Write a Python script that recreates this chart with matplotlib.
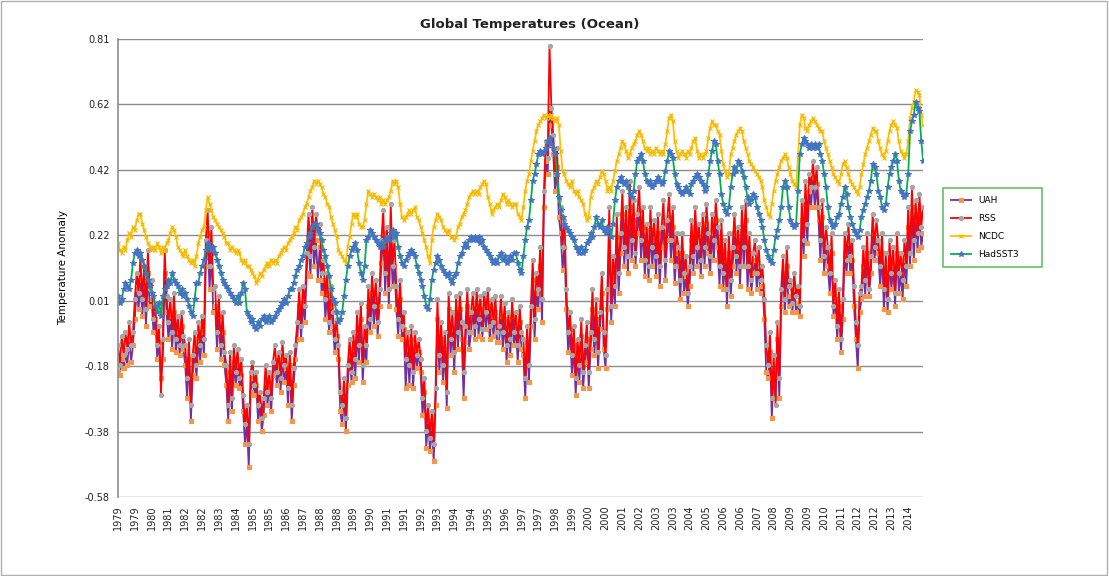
import numpy as np
import matplotlib.pyplot as plt
from matplotlib.patches import Rectangle

start_year = 1979

# monthly anomalies, Jan 1979 .. Dec 2014, one row per year
uah = [
    -0.20, -0.21, -0.16, -0.19, -0.14, -0.18, -0.10, -0.17, -0.12, -0.04, 0.05, -0.01,
    0.08, -0.03, 0.06, -0.06, 0.10, 0.00, 0.02, -0.08, -0.04, -0.16, -0.11, -0.22,
    -0.16, 0.10, -0.02, -0.10, -0.03, -0.13, -0.02, -0.14, -0.08, -0.15, -0.06, -0.13,
    -0.18, -0.28, -0.16, -0.35, -0.21, -0.13, -0.22, -0.10, -0.17, -0.08, -0.15, 0.12,
    0.22, 0.05, 0.16, -0.02, 0.00, -0.13, -0.03, -0.16, -0.08, -0.18, -0.24, -0.35,
    -0.20, -0.32, -0.17, -0.24, -0.18, -0.25, -0.21, -0.32, -0.42, -0.35, -0.49, -0.26,
    -0.22, -0.27, -0.24, -0.35, -0.30, -0.38, -0.33, -0.23, -0.30, -0.25, -0.32, -0.21,
    -0.17, -0.24, -0.19, -0.26, -0.16, -0.23, -0.19, -0.30, -0.18, -0.35, -0.24, -0.16,
    -0.10, 0.00, -0.10, 0.01, -0.05, 0.10, 0.21, 0.09, 0.24, 0.12, 0.20, 0.08,
    0.18, 0.04, 0.08, -0.04, 0.04, -0.08, 0.00, -0.06, -0.14, -0.09, -0.16, -0.32,
    -0.36, -0.27, -0.38, -0.24, -0.15, -0.23, -0.13, -0.22, -0.08, -0.17, -0.04, -0.23,
    -0.12, -0.17, 0.00, -0.08, 0.04, -0.06, 0.02, -0.09, 0.00, 0.13, 0.22, 0.04,
    0.16, 0.00, 0.22, 0.06, 0.12, -0.01, -0.09, 0.02, -0.10, -0.07, -0.25, -0.13,
    -0.24, -0.10, -0.25, -0.13, -0.19, -0.14, -0.20, -0.33, -0.26, -0.43, -0.35, -0.44,
    -0.37, -0.47, -0.30, -0.04, -0.20, -0.10, -0.23, -0.13, -0.31, -0.01, -0.15, -0.07,
    -0.20, -0.02, -0.13, -0.01, -0.10, -0.28, -0.11, 0.00, -0.13, -0.08, -0.01, -0.10,
    0.00, -0.09, -0.02, -0.10, -0.01, -0.07, 0.00, -0.10, -0.03, -0.09, -0.02, -0.11,
    -0.11, -0.03, -0.13, -0.04, -0.17, -0.07, -0.15, -0.03, -0.12, -0.07, -0.17, -0.05,
    -0.13, -0.15, -0.28, -0.11, -0.23, -0.06, 0.08, -0.10, 0.04, -0.01, 0.12, -0.05,
    0.30, 0.44, 0.40, 0.60, 0.55, 0.46, 0.35, 0.42, 0.27, 0.22, 0.11, 0.18,
    -0.01, -0.14, -0.07, -0.21, -0.12, -0.27, -0.15, -0.23, -0.09, -0.25, -0.17, -0.10,
    -0.25, -0.13, -0.01, -0.15, -0.04, -0.19, -0.07, 0.04, -0.13, -0.19, -0.01, 0.22,
    -0.05, 0.08, 0.00, 0.21, 0.04, 0.16, 0.28, 0.12, 0.24, 0.10, 0.30, 0.14,
    0.26, 0.12, 0.22, 0.29, 0.14, 0.24, 0.09, 0.19, 0.08, 0.23, 0.12, 0.20,
    0.09, 0.22, 0.06, 0.18, 0.25, 0.08, 0.20, 0.27, 0.14, 0.24, 0.07, 0.16,
    0.12, 0.02, 0.16, 0.04, 0.09, 0.00, 0.06, 0.20, 0.10, 0.24, 0.12, 0.18,
    0.09, 0.22, 0.12, 0.25, 0.16, 0.10, 0.22, 0.14, 0.26, 0.18, 0.06, 0.20,
    0.05, 0.14, 0.00, 0.16, 0.03, 0.12, 0.22, 0.10, 0.18, 0.06, 0.24, 0.12,
    0.26, 0.05, 0.16, 0.04, 0.10, 0.14, 0.05, 0.12, 0.04, 0.06, -0.04, -0.20,
    -0.22, -0.14, -0.34, -0.20, -0.28, -0.10, -0.28, 0.00, 0.10, -0.02, 0.12, 0.00,
    0.03, -0.02, 0.05, -0.02, 0.01, -0.03, 0.26, 0.15, 0.31, 0.19, 0.35, 0.30,
    0.39, 0.30, 0.37, 0.26, 0.14, 0.27, 0.10, 0.18, 0.12, 0.04, 0.16, -0.03,
    0.02, -0.10, 0.00, -0.14, -0.04, 0.16, 0.10, 0.19, 0.10, 0.14, 0.00, -0.10,
    -0.19, -0.02, 0.02, 0.12, 0.03, 0.16, 0.03, 0.10, 0.22, 0.14, 0.20, 0.16,
    0.06, 0.16, -0.01, 0.10, -0.02, 0.14, 0.05, 0.12, 0.00, 0.16, 0.04, 0.10,
    0.02, 0.14, 0.06, 0.24, 0.12, 0.30, 0.14, 0.26, 0.17, 0.28, 0.18, 0.22,
]

rss = [
    -0.12, -0.18, -0.09, -0.15, -0.08, -0.13, -0.05, -0.12, -0.08, 0.02, 0.10, 0.04,
    0.15, 0.02, 0.12, -0.01, 0.17, 0.05, 0.08, -0.04, 0.01, -0.12, -0.06, -0.27,
    -0.10, 0.17, 0.03, -0.05, 0.02, -0.08, 0.04, -0.10, -0.03, -0.12, -0.02, -0.09,
    -0.12, -0.22, -0.10, -0.30, -0.15, -0.08, -0.18, -0.05, -0.12, -0.03, -0.10, 0.20,
    0.29, 0.12, 0.24, 0.05, 0.06, -0.08, 0.03, -0.12, -0.02, -0.14, -0.18, -0.30,
    -0.14, -0.28, -0.12, -0.20, -0.13, -0.22, -0.16, -0.27, -0.36, -0.30, -0.42, -0.20,
    -0.17, -0.24, -0.20, -0.30, -0.26, -0.34, -0.28, -0.18, -0.26, -0.20, -0.28, -0.17,
    -0.12, -0.20, -0.14, -0.22, -0.11, -0.18, -0.15, -0.25, -0.14, -0.30, -0.19, -0.12,
    -0.05, 0.05, -0.06, 0.06, 0.00, 0.16, 0.28, 0.15, 0.30, 0.18, 0.28, 0.22,
    0.25, 0.10, 0.14, 0.02, 0.10, -0.05, 0.06, -0.02, -0.10, -0.04, -0.12, -0.26,
    -0.30, -0.22, -0.34, -0.18, -0.10, -0.20, -0.08, -0.16, -0.02, -0.12, 0.01, -0.18,
    -0.06, -0.12, 0.06, -0.04, 0.10, 0.00, 0.08, -0.05, 0.05, 0.20, 0.29, 0.10,
    0.24, 0.05, 0.31, 0.12, 0.20, 0.06, -0.04, 0.08, -0.06, -0.02, -0.16, -0.08,
    -0.18, -0.06, -0.20, -0.08, -0.15, -0.10, -0.16, -0.28, -0.22, -0.38, -0.30, -0.40,
    -0.32, -0.42, -0.25, 0.02, -0.15, -0.05, -0.18, -0.08, -0.26, 0.04, -0.10, -0.02,
    -0.14, 0.03, -0.08, 0.04, -0.05, -0.20, -0.06, 0.05, -0.08, -0.02, 0.04, -0.06,
    0.05, -0.04, 0.03, -0.07, 0.04, -0.02, 0.05, -0.06, 0.02, -0.05, 0.03, -0.08,
    -0.06, 0.03, -0.08, 0.01, -0.12, -0.02, -0.10, 0.02, -0.08, -0.02, -0.12, 0.00,
    -0.08, -0.10, -0.22, -0.06, -0.18, 0.00, 0.14, -0.04, 0.10, 0.05, 0.18, 0.02,
    0.35, 0.50, 0.45, 0.79, 0.60, 0.52, 0.40, 0.48, 0.32, 0.30, 0.18, 0.26,
    0.05, -0.08, -0.02, -0.15, -0.06, -0.22, -0.10, -0.18, -0.04, -0.20, -0.12, -0.05,
    -0.20, -0.08, 0.05, -0.10, 0.02, -0.14, -0.02, 0.10, -0.08, -0.15, 0.05, 0.30,
    0.00, 0.15, 0.06, 0.28, 0.10, 0.22, 0.35, 0.18, 0.30, 0.15, 0.38, 0.20,
    0.32, 0.16, 0.28, 0.36, 0.20, 0.30, 0.14, 0.25, 0.12, 0.30, 0.18, 0.26,
    0.15, 0.28, 0.12, 0.24, 0.32, 0.14, 0.26, 0.34, 0.20, 0.30, 0.12, 0.22,
    0.18, 0.08, 0.22, 0.10, 0.15, 0.04, 0.12, 0.26, 0.15, 0.30, 0.18, 0.25,
    0.14, 0.28, 0.18, 0.31, 0.22, 0.15, 0.28, 0.20, 0.32, 0.24, 0.12, 0.26,
    0.10, 0.20, 0.05, 0.22, 0.08, 0.18, 0.28, 0.15, 0.24, 0.12, 0.30, 0.18,
    0.32, 0.12, 0.22, 0.08, 0.16, 0.20, 0.10, 0.18, 0.08, 0.12, 0.02, -0.12,
    -0.18, -0.08, -0.28, -0.15, -0.30, -0.05, -0.22, 0.05, 0.15, 0.02, 0.18, 0.06,
    0.08, 0.01, 0.10, 0.03, 0.06, 0.00, 0.32, 0.20, 0.38, 0.25, 0.40, 0.36,
    0.44, 0.36, 0.42, 0.30, 0.20, 0.32, 0.15, 0.24, 0.18, 0.10, 0.22, 0.00,
    0.08, -0.06, 0.05, -0.10, 0.02, 0.22, 0.14, 0.25, 0.15, 0.20, 0.06, -0.05,
    -0.12, 0.04, 0.06, 0.18, 0.08, 0.22, 0.05, 0.15, 0.28, 0.18, 0.26, 0.20,
    0.12, 0.22, 0.05, 0.16, 0.02, 0.20, 0.10, 0.18, 0.04, 0.22, 0.10, 0.16,
    0.08, 0.20, 0.12, 0.30, 0.16, 0.36, 0.20, 0.32, 0.22, 0.34, 0.24, 0.30,
]

ncdc = [
    0.19, 0.17, 0.16, 0.18, 0.17, 0.20, 0.22, 0.21, 0.24, 0.23, 0.26, 0.28,
    0.28, 0.25, 0.23, 0.21, 0.19, 0.18, 0.17, 0.18, 0.17, 0.19, 0.18, 0.16,
    0.18, 0.17, 0.19, 0.20, 0.22, 0.24, 0.23, 0.21, 0.18, 0.17, 0.16, 0.15,
    0.17, 0.15, 0.14, 0.13, 0.14, 0.12, 0.15, 0.19, 0.21, 0.23, 0.24, 0.29,
    0.33, 0.31, 0.29, 0.27, 0.26, 0.25, 0.24, 0.23, 0.22, 0.21, 0.19, 0.19,
    0.17, 0.18, 0.17, 0.16, 0.17, 0.16, 0.14, 0.13, 0.14, 0.12, 0.12, 0.11,
    0.10, 0.09, 0.07, 0.08, 0.10, 0.09, 0.11, 0.12, 0.13, 0.12, 0.14, 0.13,
    0.14, 0.13, 0.15, 0.16, 0.17, 0.18, 0.17, 0.19, 0.20, 0.21, 0.22, 0.24,
    0.23, 0.26, 0.27, 0.28, 0.30, 0.31, 0.33, 0.35, 0.36, 0.38, 0.37, 0.38,
    0.37, 0.36, 0.34, 0.33, 0.31, 0.30, 0.27, 0.25, 0.23, 0.21, 0.17, 0.16,
    0.15, 0.14, 0.13, 0.18, 0.21, 0.25, 0.28, 0.27, 0.28, 0.25, 0.24, 0.24,
    0.26, 0.31, 0.35, 0.34, 0.33, 0.34, 0.33, 0.32, 0.33, 0.31, 0.32, 0.31,
    0.32, 0.33, 0.35, 0.38, 0.37, 0.38, 0.36, 0.31, 0.27, 0.26, 0.27, 0.28,
    0.29, 0.28, 0.29, 0.30, 0.27, 0.26, 0.24, 0.22, 0.20, 0.18, 0.15, 0.13,
    0.20, 0.24, 0.26, 0.28, 0.27, 0.26, 0.24, 0.23, 0.22, 0.23, 0.21, 0.21,
    0.20, 0.21, 0.24, 0.25, 0.27, 0.28, 0.29, 0.31, 0.33, 0.34, 0.35, 0.34,
    0.35, 0.34, 0.36, 0.37, 0.38, 0.37, 0.33, 0.31, 0.28, 0.29, 0.30, 0.31,
    0.30, 0.32, 0.34, 0.33, 0.31, 0.32, 0.31, 0.30, 0.31, 0.31, 0.28, 0.27,
    0.26, 0.30, 0.35, 0.38, 0.40, 0.44, 0.47, 0.50, 0.53, 0.55, 0.56, 0.57,
    0.58, 0.57, 0.58, 0.57, 0.58, 0.57, 0.56, 0.57, 0.55, 0.47, 0.41, 0.40,
    0.38, 0.37, 0.36, 0.38, 0.35, 0.34, 0.35, 0.33, 0.32, 0.31, 0.28, 0.26,
    0.27, 0.33, 0.35, 0.36, 0.38, 0.37, 0.39, 0.41, 0.40, 0.38, 0.35, 0.36,
    0.35, 0.38, 0.41, 0.44, 0.46, 0.48, 0.50, 0.49, 0.47, 0.45, 0.46, 0.48,
    0.49, 0.50, 0.52, 0.53, 0.52, 0.50, 0.48, 0.47, 0.48, 0.46, 0.47, 0.46,
    0.48, 0.47, 0.46, 0.47, 0.46, 0.49, 0.53, 0.57, 0.58, 0.56, 0.50, 0.47,
    0.45, 0.46, 0.47, 0.46, 0.45, 0.47, 0.46, 0.48, 0.50, 0.51, 0.47, 0.45,
    0.46, 0.45, 0.46, 0.47, 0.51, 0.54, 0.56, 0.55, 0.55, 0.53, 0.52, 0.47,
    0.43, 0.41, 0.39, 0.40, 0.46, 0.48, 0.50, 0.52, 0.53, 0.54, 0.53, 0.50,
    0.48, 0.46, 0.44, 0.43, 0.42, 0.41, 0.40, 0.39, 0.38, 0.36, 0.32, 0.30,
    0.28, 0.27, 0.31, 0.35, 0.38, 0.40, 0.42, 0.44, 0.45, 0.46, 0.45, 0.42,
    0.40, 0.38, 0.37, 0.36, 0.45, 0.55, 0.58, 0.57, 0.54, 0.53, 0.55, 0.56,
    0.57, 0.56, 0.55, 0.54, 0.53, 0.53, 0.50, 0.48, 0.46, 0.44, 0.42, 0.40,
    0.39, 0.38, 0.37, 0.40, 0.43, 0.44, 0.42, 0.40, 0.38, 0.37, 0.36, 0.35,
    0.34, 0.36, 0.40, 0.43, 0.46, 0.48, 0.50, 0.52, 0.54, 0.53, 0.53, 0.50,
    0.48, 0.46, 0.45, 0.47, 0.50, 0.53, 0.55, 0.56, 0.55, 0.54, 0.50, 0.47,
    0.46, 0.45, 0.46, 0.50, 0.57, 0.60, 0.62, 0.655, 0.65, 0.64, 0.58, 0.55,
]

hadsst3 = [
    0.03, 0.01, 0.02, 0.05, 0.07, 0.06, 0.05, 0.08, 0.13, 0.16, 0.17, 0.15,
    0.16, 0.14, 0.12, 0.10, 0.08, 0.06, 0.04, 0.03, 0.00, -0.02, 0.01, -0.03,
    0.03, 0.05, 0.06, 0.08, 0.07, 0.10, 0.08, 0.07, 0.06, 0.04, 0.05, 0.03,
    0.04, 0.02, 0.00, -0.02, -0.03, 0.02, 0.07, 0.07, 0.10, 0.12, 0.14, 0.17,
    0.19, 0.18, 0.17, 0.18, 0.16, 0.14, 0.12, 0.10, 0.08, 0.07, 0.06, 0.05,
    0.04, 0.03, 0.02, 0.01, 0.03, 0.01, 0.04, 0.07, 0.05, -0.02, -0.03, -0.05,
    -0.04, -0.06, -0.07, -0.05, -0.06, -0.04, -0.03, -0.05, -0.04, -0.03, -0.05, -0.04,
    -0.03, -0.02, -0.01, 0.00, 0.01, 0.02, 0.01, 0.03, 0.05, 0.05, 0.07, 0.09,
    0.11, 0.12, 0.14, 0.15, 0.18, 0.19, 0.21, 0.22, 0.24, 0.25, 0.25, 0.23,
    0.22, 0.20, 0.17, 0.15, 0.12, 0.09, 0.05, 0.02, 0.01, -0.02, -0.05, -0.04,
    -0.02, 0.03, 0.08, 0.12, 0.15, 0.17, 0.18, 0.19, 0.17, 0.13, 0.10, 0.08,
    0.12, 0.20, 0.21, 0.23, 0.22, 0.21, 0.20, 0.19, 0.18, 0.19, 0.18, 0.20,
    0.21, 0.20, 0.22, 0.23, 0.21, 0.22, 0.18, 0.15, 0.13, 0.12, 0.14, 0.15,
    0.16, 0.17, 0.16, 0.15, 0.12, 0.10, 0.08, 0.06, 0.03, 0.00, -0.01, 0.02,
    0.08, 0.11, 0.13, 0.15, 0.14, 0.12, 0.11, 0.10, 0.09, 0.10, 0.08, 0.07,
    0.09, 0.10, 0.13, 0.15, 0.16, 0.18, 0.19, 0.18, 0.20, 0.21, 0.20, 0.21,
    0.20, 0.21, 0.19, 0.20, 0.18, 0.17, 0.16, 0.15, 0.14, 0.13, 0.14, 0.13,
    0.15, 0.16, 0.14, 0.15, 0.13, 0.14, 0.15, 0.14, 0.16, 0.16, 0.13, 0.11,
    0.10, 0.15, 0.20, 0.24, 0.26, 0.32, 0.38, 0.40, 0.43, 0.46, 0.47, 0.46,
    0.47, 0.48, 0.50, 0.51, 0.49, 0.48, 0.46, 0.40, 0.33, 0.29, 0.27, 0.25,
    0.24, 0.23, 0.22, 0.21, 0.20, 0.18, 0.17, 0.16, 0.18, 0.16, 0.17, 0.19,
    0.20, 0.22, 0.21, 0.24, 0.27, 0.25, 0.24, 0.26, 0.23, 0.22, 0.24, 0.23,
    0.21, 0.25, 0.32, 0.36, 0.38, 0.39, 0.38, 0.37, 0.38, 0.36, 0.34, 0.33,
    0.35, 0.40, 0.44, 0.45, 0.46, 0.44, 0.40, 0.38, 0.37, 0.38, 0.36, 0.37,
    0.38, 0.39, 0.38, 0.37, 0.38, 0.41, 0.44, 0.47, 0.46, 0.45, 0.40, 0.37,
    0.36, 0.35, 0.34, 0.35, 0.36, 0.35, 0.34, 0.37, 0.38, 0.39, 0.40, 0.39,
    0.38, 0.37, 0.35, 0.36, 0.40, 0.44, 0.47, 0.50, 0.49, 0.44, 0.40, 0.34,
    0.31, 0.29, 0.28, 0.30, 0.36, 0.40, 0.42, 0.41, 0.44, 0.43, 0.41, 0.39,
    0.36, 0.33, 0.31, 0.32, 0.34, 0.33, 0.30, 0.28, 0.26, 0.24, 0.20, 0.17,
    0.15, 0.14, 0.13, 0.17, 0.21, 0.23, 0.26, 0.30, 0.36, 0.38, 0.36, 0.30,
    0.26, 0.25, 0.24, 0.25, 0.35, 0.46, 0.49, 0.51, 0.50, 0.49, 0.48, 0.49,
    0.48, 0.49, 0.48, 0.49, 0.46, 0.44, 0.40, 0.36, 0.30, 0.26, 0.25, 0.24,
    0.25, 0.27, 0.28, 0.31, 0.33, 0.36, 0.34, 0.30, 0.27, 0.25, 0.23, 0.22,
    0.21, 0.23, 0.27, 0.29, 0.31, 0.33, 0.35, 0.38, 0.43, 0.42, 0.40, 0.35,
    0.33, 0.30, 0.29, 0.31, 0.36, 0.40, 0.42, 0.44, 0.46, 0.44, 0.38, 0.35,
    0.34, 0.33, 0.34, 0.40, 0.53, 0.56, 0.58, 0.62, 0.60, 0.59, 0.50, 0.44,
]

series_names = ["UAH", "RSS", "NCDC", "HadSST3"]
y_tick_labels = ["-0.58", "-0.38", "-0.18", "0.01", "0.22", "0.42", "0.62", "0.81"]

n = len(uah)
x = np.arange(n)
tick_pos = list(range(0, n, 9))
tick_labels = [str(start_year + i // 12) for i in tick_pos]

fig = plt.figure(figsize=(11.09, 5.76), dpi=100)
fig.patches.append(Rectangle((0.001, 0.002), 0.997, 0.996, transform=fig.transFigure,
                             fill=False, edgecolor="#b0b0b0", linewidth=1))
ax = fig.add_axes([0.1064, 0.1372, 0.7260, 0.7951])

styles = [
    dict(color="#7030A0", marker="s", mfc="#F79646", mec="#F79646", ms=3.2),
    dict(color="#FF0000", marker="o", mfc="#A6A6A6", mec="#A6A6A6", ms=3.0),
    dict(color="#FFC000", marker="x", mfc="#FFC000", mec="#F5B800", ms=3.5),
    dict(color="#00B050", marker="*", mfc="#4472C4", mec="#4472C4", ms=3.8),
]
for vals, name, st in zip([uah, rss, ncdc, hadsst3], series_names, styles):
    ax.plot(x, vals, lw=1.3, label=name, markeredgewidth=0.8, **st)

ax.set_xlim(0, n - 1)
ax.set_ylim(-0.58, 0.81)
yt = np.linspace(-0.58, 0.81, len(y_tick_labels))
ax.set_yticks(yt)
ax.set_yticklabels(y_tick_labels, fontsize=7)
ax.yaxis.grid(True, color="#8c8c8c", linewidth=1)
ax.set_axisbelow(True)
ax.set_xticks(tick_pos)
ax.set_xticklabels(tick_labels, rotation=90, fontsize=7)
ax.tick_params(axis="both", length=0, pad=6, colors="#222222")

for side in ["top", "right", "bottom"]:
    ax.spines[side].set_visible(False)
ax.spines["left"].set_color("#8c8c8c")
ax.spines["left"].set_linewidth(1.2)

ax.set_ylabel("Temperature Anomaly", fontsize=7.5, labelpad=12)
fig.text(0.478, 0.958, "Global Temperatures (Ocean)", ha="center", va="center",
         fontsize=9.5, fontweight="bold", color="#222222")

leg = fig.legend(loc="lower left", bbox_to_anchor=(0.846, 0.528, 0.098, 0.134),
                 mode="expand", fontsize=6.5, frameon=True, fancybox=False,
                 handlelength=2.2, borderpad=0.9, labelspacing=1.0)
leg.get_frame().set_edgecolor("#3CB043")
leg.get_frame().set_linewidth(1.2)

fig.savefig("out.png", dpi=100)
